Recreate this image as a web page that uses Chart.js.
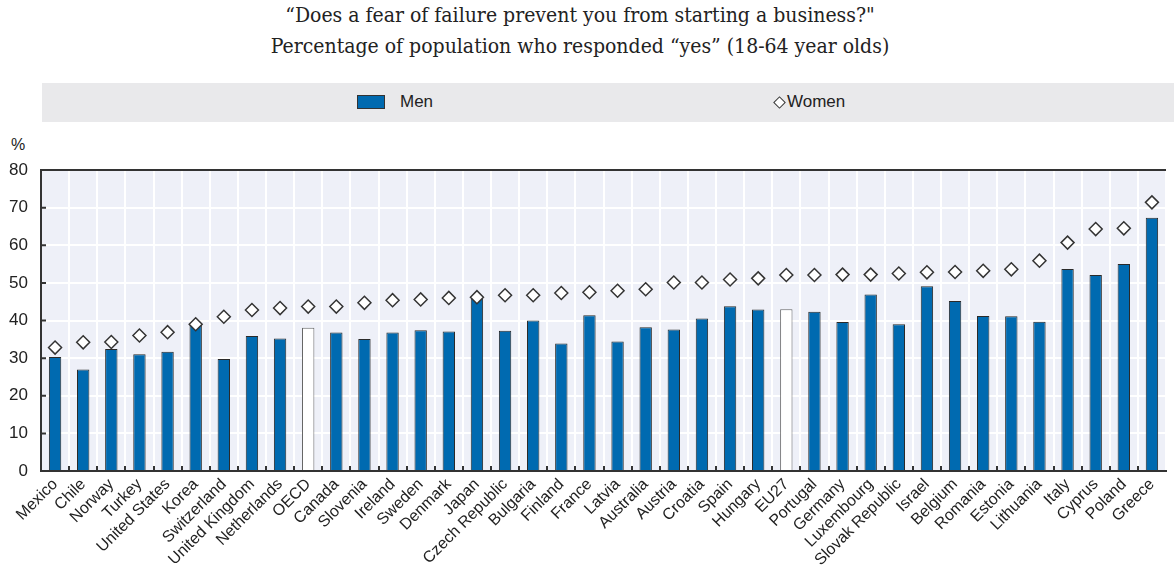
<!DOCTYPE html>
<html>
<head>
<meta charset="utf-8">
<script src="https://cdn.jsdelivr.net/npm/chart.js@4"></script>
<style>
  body { margin: 0; background: #fff; width: 1174px; height: 568px; overflow: hidden; position: relative; }
  .title { position: absolute; left: 0; width: 1160px; text-align: center; font-family: "DejaVu Serif Condensed", "DejaVu Serif", serif; font-size: 21px; color: #222; white-space: nowrap; }
  #legend { position: absolute; left: 42px; top: 83px; width: 1132px; height: 39px; background: #e9e9eb; }
  .lg { position: absolute; font-family: "Liberation Sans Narrow", "Liberation Sans", Arial, sans-serif; font-size: 17px; color: #222; top: 9px; }
  #swMen { position: absolute; left: 315px; top: 12px; width: 28px; height: 14px; background: #006ab0; border: 1px solid #333; box-sizing: border-box; }
  #swWomen { position: absolute; left: 733px; top: 15px; width: 7px; height: 7px; background: #fff; border: 1px solid #333; transform: rotate(45deg); }
  #pct { position: absolute; left: 11px; top: 136px; font-family: "Liberation Sans", Arial, sans-serif; font-size: 16px; color: #222; }
  #wrap { position: absolute; left: 0; top: 130px; }
</style>
</head>
<body>
<div class="title" style="top:3px">“Does a fear of failure prevent you from starting a business?"</div>
<div class="title" style="top:34px">Percentage of population who responded “yes” (18-64 year olds)</div>
<div id="legend">
  <div id="swMen"></div><div class="lg" style="left:358px">Men</div>
  <div id="swWomen"></div><div class="lg" style="left:745px">Women</div>
</div>
<div id="pct">%</div>
<div id="wrap"><canvas id="chart" width="1174" height="438"></canvas></div>
<script>
var countries = ["Mexico", "Chile", "Norway", "Turkey", "United States", "Korea", "Switzerland", "United Kingdom", "Netherlands", "OECD",
  "Canada", "Slovenia", "Ireland", "Sweden", "Denmark", "Japan", "Czech Republic", "Bulgaria", "Finland", "France",
  "Latvia", "Australia", "Austria", "Croatia", "Spain", "Hungary", "EU27", "Portugal", "Germany", "Luxembourg",
  "Slovak Republic", "Israel", "Belgium", "Romania", "Estonia", "Lithuania", "Italy", "Cyprus", "Poland", "Greece"];
var men = [30.3, 27.0, 32.4, 31.0, 31.7, 38.9, 29.8, 35.9, 35.2, 38.1,
  36.8, 35.1, 36.8, 37.4, 37.1, 45.9, 37.3, 40.0, 33.9, 41.4,
  34.4, 38.2, 37.6, 40.5, 43.8, 42.9, 43.0, 42.3, 39.6, 46.9,
  39.0, 49.1, 45.2, 41.2, 41.1, 39.7, 53.7, 52.1, 55.0, 67.3];
var women = [32.8, 34.2, 34.3, 36.0, 36.9, 39.0, 41.0, 42.8, 43.3, 43.7,
  43.7, 44.7, 45.4, 45.6, 46.0, 46.2, 46.7, 46.7, 47.3, 47.5,
  47.9, 48.3, 50.1, 50.1, 50.9, 51.2, 52.1, 52.1, 52.2, 52.2,
  52.5, 52.8, 52.9, 53.2, 53.6, 55.9, 60.7, 64.3, 64.5, 71.4];
var aggregates = ["OECD", "EU27"];
var yTicks = [0, 10, 20, 30, 40, 50, 60, 70, 80];

var barFill = countries.map(function (c) { return aggregates.indexOf(c) >= 0 ? "#ffffff" : "#006ab0"; });
var barLine = countries.map(function (c) { return aggregates.indexOf(c) >= 0 ? "#666666" : "#2a2a2a"; });

// plot background, top border and the little inward ticks
var frame = {
  id: "frame",
  beforeDraw: function (chart) {
    var a = chart.chartArea, ctx = chart.ctx;
    ctx.save();
    ctx.fillStyle = "#eef0f8";
    ctx.fillRect(a.left, a.top, a.right - a.left, a.bottom - a.top);
    ctx.restore();
  },
  afterDatasetsDraw: function (chart) {
    var a = chart.chartArea, ctx = chart.ctx;
    var y = chart.scales.y;
    ctx.save();
    ctx.strokeStyle = "#333";
    ctx.lineWidth = 2;
    ctx.beginPath();
    ctx.moveTo(a.left, a.top);
    ctx.lineTo(a.right, a.top);
    var step = (a.right - a.left) / countries.length;
    for (var i = 1; i < countries.length; i++) {
      var px = Math.round(a.left + step * i);
      ctx.moveTo(px, a.bottom);
      ctx.lineTo(px, a.bottom - 5);
    }
    yTicks.forEach(function (v) {
      var py = y.getPixelForValue(v);
      ctx.moveTo(a.left, py);
      ctx.lineTo(a.left + 5, py);
    });
    ctx.stroke();
    ctx.restore();
  }
};

new Chart(document.getElementById("chart"), {
  data: {
    labels: countries,
    datasets: [{
      type: "bar",
      label: "Men",
      data: men,
      backgroundColor: barFill,
      borderColor: barLine,
      borderWidth: 1,
      barPercentage: 0.44,
      categoryPercentage: 1,
      order: 2
    }, {
      type: "line",
      label: "Women",
      data: women,
      showLine: false,
      pointStyle: "rectRot",
      pointRadius: 6.5,
      pointBackgroundColor: "#ffffff",
      pointBorderColor: "#333",
      pointBorderWidth: 1.5,
      order: 1
    }]
  },
  options: {
    responsive: false,
    animation: false,
    devicePixelRatio: 1,
    layout: { padding: { top: 40, right: 2, left: 0, bottom: 0 } },
    plugins: {
      legend: { display: false },
      tooltip: { enabled: false },
      title: { display: false }
    },
    scales: {
      x: {
        offset: true,
        grid: { color: "#ffffff", lineWidth: 2, offset: true, drawTicks: false },
        border: { color: "#333", width: 2 },
        ticks: {
          autoSkip: false, maxRotation: 45, minRotation: 45, padding: 4,
          color: "#222", font: { family: "'Liberation Sans Narrow', 'Liberation Sans', Arial, sans-serif", size: 16 }
        },
        afterFit: function (s) { s.height = 97; }
      },
      y: {
        min: 0, max: 80,
        afterBuildTicks: function (s) { s.ticks = yTicks.map(function (v) { return { value: v }; }); },
        grid: { color: "#ffffff", lineWidth: 2, drawTicks: false },
        border: { color: "#333", width: 2 },
        ticks: { padding: 13, color: "#222", font: { family: "'Liberation Sans', Arial, sans-serif", size: 17 } },
        afterFit: function (s) { s.width = 41; }
      }
    }
  },
  plugins: [frame]
});
</script>
</body>
</html>
